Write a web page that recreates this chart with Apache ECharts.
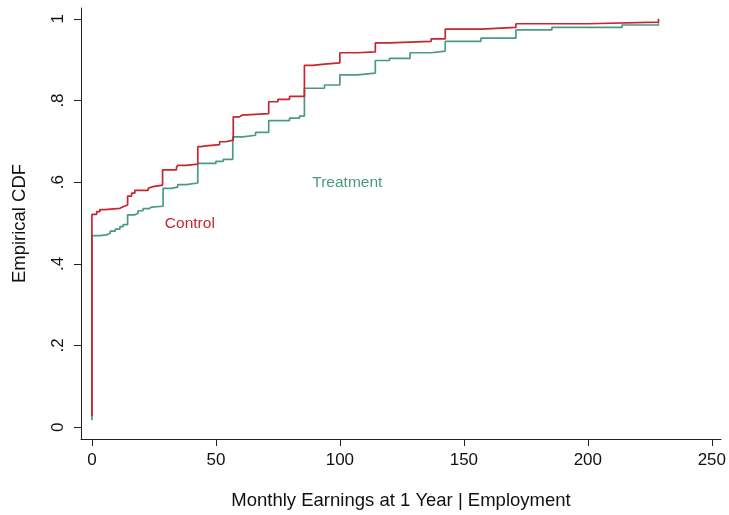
<!DOCTYPE html>
<html>
<head>
<meta charset="utf-8">
<script src="https://cdn.jsdelivr.net/npm/echarts@6/dist/echarts.min.js"></script>
<style>
  html, body { margin: 0; padding: 0; background: #fff; }
  #chart { width: 729px; height: 515px; }
</style>
</head>
<body>
<div id="chart"></div>
<script>
// empirical CDF
var controlEarn = [0, 0, 1.9, 3.2, 5.2, 11.3, 12.6, 14.4, 16, 17.3, 22.7, 23.3, 24.6, 28.5, 34.1, 34.6, 38,
  42.7, 44, 46, 51.5, 54, 57, 59.5, 60.5, 71.3, 75, 79.7, 85.7, 89, 93.8, 100, 107, 114.3, 120, 128.3,
  136.8, 142.5, 157, 171, 200, 228.5, 228.5];
var controlCdf = [0.027, 0.521, 0.528, 0.533, 0.536, 0.540, 0.544, 0.566, 0.573, 0.580, 0.585, 0.589, 0.593, 0.630, 0.636, 0.641, 0.644,
  0.687, 0.689, 0.692, 0.699, 0.703, 0.760, 0.764, 0.768, 0.797, 0.803, 0.810, 0.886, 0.889, 0.892, 0.917, 0.919, 0.941, 0.943, 0.945,
  0.951, 0.975, 0.979, 0.988, 0.992, 0.996, 1.0];

var treatEarn = [0, 0, 3, 6, 7.4, 9.4, 11.3, 12.6, 14.4, 17.3, 18.6, 20.6, 23, 24, 28.7, 32, 34.6, 38,
  42.7, 50, 53, 56.8, 60.8, 66, 71.3, 79.7, 83.7, 85.7, 93.8, 100, 107, 114.3, 120, 128.3, 136.8,
  142.5, 156.9, 171, 185.5, 213.8, 228.5];
var treatCdf = [0.017, 0.469, 0.471, 0.475, 0.480, 0.485, 0.491, 0.496, 0.520, 0.524, 0.530, 0.535, 0.539, 0.541, 0.585, 0.588, 0.594, 0.598,
  0.646, 0.651, 0.656, 0.711, 0.715, 0.722, 0.751, 0.757, 0.762, 0.830, 0.838, 0.863, 0.867, 0.898, 0.903, 0.917, 0.921,
  0.945, 0.953, 0.973, 0.979, 0.985, 0.989];

var xTicks = [0, 50, 100, 150, 200, 250];
var yTicks = [0, 0.2, 0.4, 0.6, 0.8, 1];

function pairs(xs, ys) {
  var out = [];
  for (var i = 0; i < xs.length; i++) out.push([xs[i], ys[i]]);
  return out;
}

var font = 'Liberation Sans, Arial, Helvetica, sans-serif';
var red = '#c8262e';
var green = '#4a9a80';

var myChart = echarts.init(document.getElementById('chart'));
myChart.setOption({
  animation: false,
  backgroundColor: '#fff',
  grid: { left: 81, right: 7, top: 8, bottom: 71 },
  xAxis: {
    type: 'value',
    min: -4.4,
    max: 253.7,
    name: 'Monthly Earnings at 1 Year | Employment',
    nameLocation: 'middle',
    nameGap: 52,
    nameTextStyle: { fontFamily: font, fontSize: 18.5, color: '#111' },
    axisLine: { show: true, onZero: false, lineStyle: { color: '#222', width: 1 } },
    axisTick: { show: true, length: 7, customValues: xTicks, lineStyle: { color: '#222' } },
    axisLabel: { customValues: xTicks, margin: 13, fontFamily: font, fontSize: 17, color: '#111' },
    splitLine: { show: false }
  },
  yAxis: {
    type: 'value',
    min: -0.029,
    max: 1.0266,
    name: 'Empirical CDF',
    nameLocation: 'middle',
    nameGap: 52,
    nameTextStyle: { fontFamily: font, fontSize: 18.5, color: '#111' },
    axisLine: { show: true, onZero: false, lineStyle: { color: '#222', width: 1 } },
    axisTick: { show: true, length: 7, customValues: yTicks, lineStyle: { color: '#222' } },
    axisLabel: {
      customValues: yTicks,
      rotate: 90,
      margin: 14,
      fontFamily: font, fontSize: 17, color: '#111',
      formatter: function (v) {
        if (v === 0) return '0';
        if (v === 1) return '1';
        return '.' + Math.round(v * 10);
      }
    },
    splitLine: { show: false }
  },
  series: [
    {
      name: 'Treatment',
      type: 'line',
      step: 'end',
      symbol: 'none',
      lineStyle: { color: green, width: 1.7 },
      data: pairs(treatEarn, treatCdf),
      markPoint: {
        symbol: 'circle', symbolSize: 0,
        label: { show: true, position: 'inside', formatter: 'Treatment', color: green, fontFamily: font, fontSize: 15.5 },
        data: [{ coord: [103, 0.598] }]
      }
    },
    {
      name: 'Control',
      type: 'line',
      step: 'end',
      symbol: 'none',
      lineStyle: { color: red, width: 1.7 },
      data: pairs(controlEarn, controlCdf),
      markPoint: {
        symbol: 'circle', symbolSize: 0,
        label: { show: true, position: 'inside', formatter: 'Control', color: red, fontFamily: font, fontSize: 15.5 },
        data: [{ coord: [39.5, 0.499] }]
      }
    }
  ]
});
</script>
</body>
</html>
